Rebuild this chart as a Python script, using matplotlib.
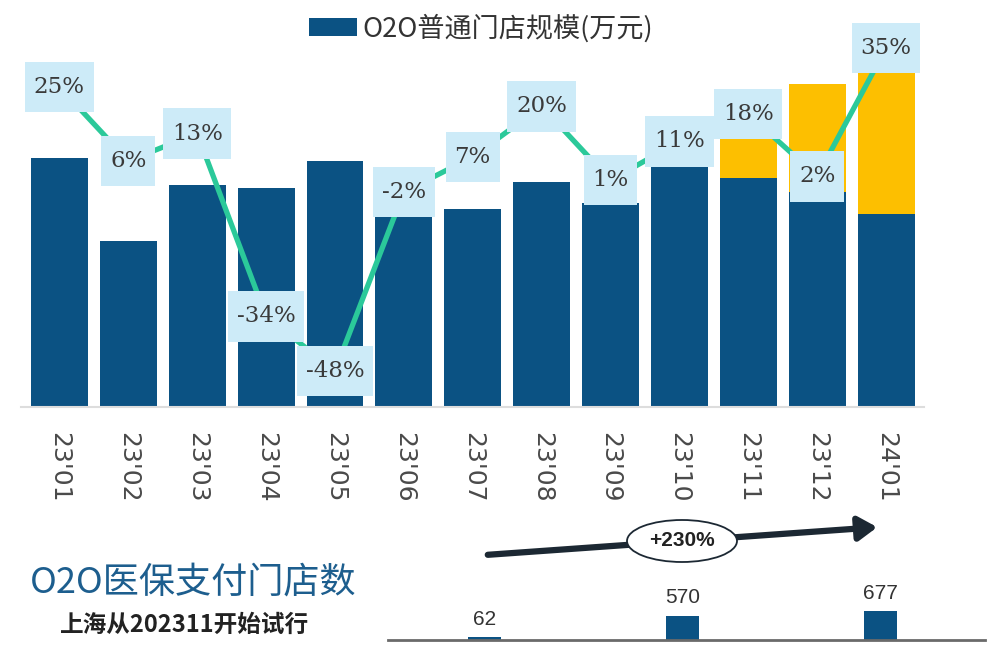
import matplotlib
matplotlib.use("Agg")
import matplotlib.pyplot as plt
from matplotlib.patches import Ellipse, FancyArrowPatch
from matplotlib.path import Path

plt.rcParams['font.family'] = ['Noto Sans CJK SC', 'DejaVu Sans']

# ---------------- data ----------------
months = ["23'01", "23'02", "23'03", "23'04", "23'05", "23'06", "23'07",
          "23'08", "23'09", "23'10", "23'11", "23'12", "24'01"]
normal_store = [249, 166, 222, 219, 246, 192, 198, 225, 204, 241, 229, 215, 193]
medical_extra = [0, 0, 0, 0, 0, 0, 0, 0, 0, 0, 40, 108, 141]
growth_pct = [25, 6, 13, -34, -48, -2, 7, 20, 1, 11, 18, 2, 35]
growth_labels = ["25%", "6%", "13%", "-34%", "-48%", "-2%", "7%", "20%",
                 "1%", "11%", "18%", "2%", "35%"]
legend_label = "O2O普通门店规模(万元)"

med_months = ["23'11", "23'12", "24'01"]
med_stores = [62, 570, 677]
med_growth_label = "+230%"
med_title = "O2O医保支付门店数"
med_subtitle = "上海从202311开始试行"

# ---------------- style ----------------
BLUE = "#0b5283"
YELLOW = "#fdbf00"
GREEN = "#2bc99a"
BOXC = "#cdebf8"
TXT = "#3a3a3a"

W, H = 1004, 671
fig = plt.figure(figsize=(W / 100, H / 100), dpi=100)

def fx(px):
    return px / W

def fy(py):
    return 1 - py / H


class RectPad:
    """Square box with separate horizontal / vertical padding."""
    def __init__(self, padx, pady):
        self.padx = padx
        self.pady = pady

    def __call__(self, x0, y0, width, height, mutation_size):
        px = self.padx * mutation_size
        py = self.pady * mutation_size
        x0, y0 = x0 - px, y0 - py
        x1, y1 = x0 + width + 2 * px, y0 + height + 2 * py
        return Path([(x0, y0), (x1, y0), (x1, y1), (x0, y1), (x0, y0)],
                    closed=True)


# ---------------- main chart ----------------
ax = fig.add_axes([fx(21.5), fy(407), fx(924) - fx(21.5), fy(20) - fy(407)])
x = list(range(len(months)))
bars = ax.bar(x, normal_store, width=0.826, color=BLUE, zorder=2)
ax.bar(x, medical_extra, bottom=normal_store, width=0.826, color=YELLOW, zorder=2)
ax.set_xlim(-0.55, 12.55)
ax.set_ylim(0, 387)
for s in ["top", "left", "right"]:
    ax.spines[s].set_visible(False)
ax.spines["bottom"].set_color("#dddddd")
ax.spines["bottom"].set_linewidth(1.5)
ax.set_yticks([])
ax.set_xticks(x)
ax.set_xticklabels(months, rotation=270, fontsize=18, color="#4a4a4a",
                   family=["DejaVu Sans"], va="top", ha="center")
ax.tick_params(axis="x", length=0, pad=18)

ax2 = ax.twinx()
ax2.set_ylim(-57.3, 42.2)
ax2.axis("off")
ax2.plot(x, growth_pct, color=GREEN, lw=3.8, zorder=3, solid_joinstyle="round")
for xi, v, lab in zip(x, growth_pct, growth_labels):
    ax2.text(xi, v, lab, ha="center", va="center", fontsize=16.5,
             family=["DejaVu Serif"], color=TXT, zorder=5,
             bbox=dict(boxstyle=RectPad(0.38, 0.62), fc=BOXC, ec="none"))

leg = ax.legend([bars], [legend_label], loc="upper center",
                frameon=False, fontsize=19.5,
                handlelength=1.75, handleheight=0.65, handletextpad=0.2,
                labelcolor="#333333", borderaxespad=0, borderpad=0)
leg.set_bbox_to_anchor((fx(481), fy(14)), transform=fig.transFigure)

# ---------------- bottom small chart ----------------
bx = fig.add_axes([fx(388), fy(640), fx(985) - fx(388), fy(500) - fy(640)])
bpos = list(range(len(med_stores)))
bx.bar(bpos, med_stores, width=0.167, color=BLUE, zorder=2)
bx.set_xlim(-0.49, 2.53)
bx.set_ylim(0, 677 * 140 / 29)
for s in ["top", "left", "right"]:
    bx.spines[s].set_visible(False)
bx.spines["bottom"].set_color("#6a6a6a")
bx.spines["bottom"].set_linewidth(2)
bx.set_xticks([])
bx.set_yticks([])
for p, v in zip(bpos, med_stores):
    bx.annotate(str(v), (p, v), xytext=(0, 6), textcoords="offset points",
                ha="center", va="bottom", fontsize=15, color="#333333",
                family=["Liberation Sans"])

arrow = FancyArrowPatch((fx(485), fy(555)), (fx(880), fy(527)),
                        transform=fig.transFigure,
                        arrowstyle="-|>,head_length=7,head_width=4.5",
                        lw=4.5, color="#1c2833", mutation_scale=1.6)
fig.add_artist(arrow)
ell = Ellipse((fx(682), fy(541)), fx(110), 42 / H, transform=fig.transFigure,
              fc="white", ec="#1c2833", lw=1.3, zorder=5)
fig.add_artist(ell)
fig.text(fx(682), fy(541), med_growth_label, ha="center", va="center",
         fontsize=15, fontweight="bold", color="#222222",
         family=["Liberation Sans"], zorder=6)

fig.text(fx(30), fy(583), med_title, ha="left", va="center", fontsize=26,
         color="#1d5e8e")
fig.text(fx(60), fy(625), med_subtitle, ha="left", va="center", fontsize=17,
         color="#222222", fontweight="bold")

fig.savefig("out.png", dpi=100, facecolor="white")
